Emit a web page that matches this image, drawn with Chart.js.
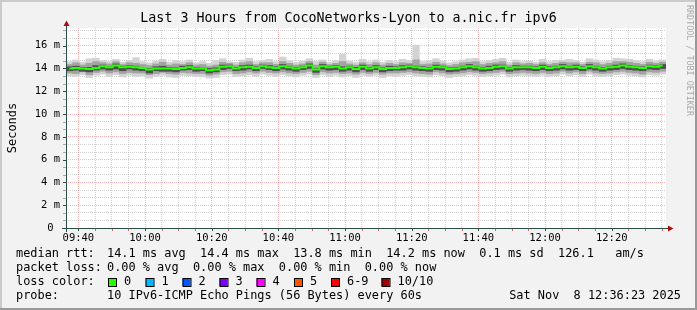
<!DOCTYPE html>
<html>
<head>
<meta charset="utf-8">
<script src="https://cdn.jsdelivr.net/npm/chart.js@4.4.0/dist/chart.umd.min.js"></script>
<style>
  html, body { margin: 0; padding: 0; background: #f2f2f2; }
  #wrap { width: 697px; height: 310px; }
</style>
</head>
<body>
<div id="wrap"><canvas id="smoke" width="697" height="310"></canvas></div>
<script>
// time window of the graph and sample step (one smoke column every 2 minutes)
const startTime = '09:36:17';
const endTime = '12:36:17';
const stepSec = 120;

// axis labels
const xLabels = ['09:40', '10:00', '10:20', '10:40', '11:00', '11:20', '11:40', '12:00', '12:20'];
const yLabels = [0, 2, 4, 6, 8, 10, 12, 14, 16];
const yMax = 17.55;

// median rtt (ms)
const median = [
  14.0, 14.05, 14.0, 13.95, 14.05, 14.2, 14.1, 14.25, 14.1, 14.15, 14.1, 14.05, 13.9, 14.0, 14.0,
  14.0, 13.95, 14.05, 14.1, 14.0, 14.0, 13.85, 13.9, 14.15, 14.2, 14.0, 14.1, 14.15, 14.05, 14.2,
  14.1, 14.05, 14.2, 14.1, 14.0, 14.1, 14.25, 13.9, 14.2, 14.1, 14.15, 14.0, 14.1, 13.95, 14.15,
  14.0, 14.1, 13.95, 14.05, 14.05, 14.1, 14.2, 14.1, 14.05, 14.0, 14.15, 14.1, 13.95, 14.0, 14.1,
  14.2, 14.1, 14.0, 14.05, 14.15, 14.2, 14.0, 14.1, 14.1, 14.1, 14.05, 14.15, 14.05, 14.1, 14.2,
  14.1, 14.15, 14.05, 14.2, 14.1, 14.0, 14.1, 14.15, 14.25, 14.15, 14.1, 14.05, 14.2, 14.15, 14.25
];

// smoke: slowest / fastest ping of each column (ms)
const outerHi = [
  14.6, 14.75, 14.55, 14.85, 14.9, 14.7, 14.6, 14.8, 14.55, 14.7, 14.95, 14.6, 14.5, 14.65, 14.8,
  14.55, 14.7, 14.6, 14.75, 14.5, 14.6, 14.45, 14.7, 14.85, 14.6, 14.55, 14.75, 14.9, 14.6, 14.7,
  14.8, 14.6, 15.0, 14.7, 14.55, 14.65, 14.85, 14.6, 14.75, 14.55, 14.7, 15.25, 14.65, 14.55, 14.8,
  14.6, 14.75, 14.55, 14.7, 14.6, 14.8, 14.7, 16.05, 14.6, 14.7, 14.85, 14.65, 14.5, 14.6, 14.75,
  14.85, 14.9, 14.6, 14.7, 14.8, 14.9, 14.55, 14.75, 14.6, 14.65, 14.55, 14.8, 14.6, 14.7, 14.75,
  14.8, 14.7, 14.55, 14.85, 14.75, 14.6, 14.7, 14.9, 14.85, 14.8, 14.7, 14.6, 14.8, 14.65, 14.75
];
const outerLo = [
  13.35, 13.3, 13.45, 13.2, 13.4, 13.5, 13.3, 13.45, 13.25, 13.4, 13.3, 13.35, 13.15, 13.3, 13.4,
  13.25, 13.2, 13.4, 13.35, 13.3, 13.25, 13.15, 13.2, 13.45, 13.5, 13.3, 13.35, 13.45, 13.3, 13.5,
  13.4, 13.3, 13.45, 13.35, 13.25, 13.4, 13.5, 13.2, 13.45, 13.3, 13.4, 13.25, 13.35, 13.2, 13.4,
  13.3, 13.4, 13.2, 13.35, 13.3, 13.4, 13.45, 13.35, 13.3, 13.25, 13.45, 13.35, 13.2, 13.3, 13.35,
  13.45, 13.4, 13.3, 13.35, 13.4, 13.5, 13.25, 13.35, 13.4, 13.35, 13.3, 13.4, 13.3, 13.35, 13.5,
  13.35, 13.45, 13.3, 13.5, 13.35, 13.3, 13.35, 13.45, 13.5, 13.4, 13.35, 13.25, 13.45, 13.4, 13.5
];

// smoke: middle band (ms)
const midHi = [
  14.35, 14.5, 14.3, 14.45, 14.6, 14.5, 14.4, 14.6, 14.35, 14.5, 14.45, 14.35, 14.25, 14.4, 14.55,
  14.3, 14.4, 14.35, 14.5, 14.3, 14.35, 14.2, 14.3, 14.55, 14.45, 14.3, 14.5, 14.6, 14.35, 14.5,
  14.5, 14.35, 14.6, 14.45, 14.3, 14.4, 14.6, 14.3, 14.55, 14.35, 14.45, 14.6, 14.4, 14.3, 14.5,
  14.35, 14.5, 14.3, 14.45, 14.35, 14.5, 14.45, 14.75, 14.35, 14.4, 14.55, 14.4, 14.25, 14.35, 14.5,
  14.55, 14.6, 14.35, 14.45, 14.5, 14.6, 14.3, 14.5, 14.4, 14.45, 14.35, 14.5, 14.35, 14.45, 14.55,
  14.5, 14.5, 14.35, 14.55, 14.5, 14.35, 14.45, 14.6, 14.6, 14.55, 14.45, 14.35, 14.55, 14.45, 14.55
];
const midLo = [
  13.6, 13.55, 13.7, 13.45, 13.65, 13.75, 13.6, 13.7, 13.55, 13.65, 13.6, 13.6, 13.45, 13.55, 13.65,
  13.55, 13.5, 13.65, 13.6, 13.55, 13.55, 13.4, 13.5, 13.7, 13.75, 13.55, 13.6, 13.7, 13.6, 13.75,
  13.65, 13.6, 13.7, 13.6, 13.55, 13.65, 13.75, 13.45, 13.7, 13.6, 13.65, 13.55, 13.6, 13.5, 13.65,
  13.55, 13.65, 13.5, 13.6, 13.6, 13.65, 13.7, 13.6, 13.55, 13.5, 13.7, 13.6, 13.5, 13.55, 13.6,
  13.7, 13.65, 13.55, 13.6, 13.65, 13.75, 13.55, 13.6, 13.65, 13.6, 13.55, 13.65, 13.55, 13.6, 13.75,
  13.6, 13.7, 13.55, 13.75, 13.6, 13.55, 13.6, 13.7, 13.75, 13.65, 13.6, 13.5, 13.7, 13.65, 13.75
];

// smoke: dark core around the median (ms)
const innerHi = [
  14.15, 14.2, 14.1, 14.1, 14.25, 14.3, 14.15, 14.4, 14.2, 14.25, 14.2, 14.1, 14.0, 14.15, 14.2,
  14.1, 14.05, 14.2, 14.25, 14.1, 14.05, 14.0, 14.05, 14.3, 14.3, 14.1, 14.25, 14.3, 14.15, 14.3,
  14.25, 14.15, 14.35, 14.2, 14.1, 14.2, 14.4, 14.0, 14.35, 14.2, 14.25, 14.15, 14.2, 14.1, 14.3,
  14.1, 14.25, 14.05, 14.2, 14.15, 14.25, 14.3, 14.2, 14.15, 14.1, 14.3, 14.2, 14.05, 14.1, 14.2,
  14.35, 14.2, 14.1, 14.2, 14.3, 14.3, 14.1, 14.25, 14.2, 14.2, 14.15, 14.3, 14.15, 14.2, 14.35,
  14.2, 14.3, 14.15, 14.35, 14.2, 14.1, 14.2, 14.3, 14.4, 14.25, 14.2, 14.15, 14.3, 14.25, 14.35
];
const innerLo = [
  13.8, 13.85, 13.75, 13.7, 13.85, 13.95, 13.85, 13.95, 13.8, 13.95, 13.85, 13.8, 13.6, 13.8, 13.75,
  13.75, 13.7, 13.85, 13.9, 13.75, 13.8, 13.6, 13.7, 13.9, 14.0, 13.8, 13.85, 13.95, 13.8, 14.0,
  13.9, 13.8, 13.95, 13.85, 13.75, 13.9, 14.0, 13.65, 13.95, 13.85, 13.9, 13.75, 13.85, 13.7, 13.9,
  13.75, 13.9, 13.7, 13.8, 13.85, 13.85, 13.95, 13.85, 13.8, 13.75, 13.9, 13.85, 13.7, 13.75, 13.85,
  13.95, 13.85, 13.75, 13.8, 13.9, 13.95, 13.75, 13.85, 13.9, 13.85, 13.8, 13.9, 13.8, 13.85, 13.95,
  13.85, 13.9, 13.8, 13.95, 13.85, 13.75, 13.85, 13.9, 14.0, 13.9, 13.85, 13.8, 13.95, 13.9, 14.0
];

// legend
const lossLabels = ['0', '1', '2', '3', '4', '5', '6-9', '10/10'];
const lossColors = ['#26ff00', '#00b8ff', '#0059ff', '#7e00ff', '#ff00ff', '#ff5500', '#ff0000', '#a10000'];
const lossBoxX = [108, 145.5, 182.5, 219.5, 256.5, 294, 331, 381.5];

function toSec(hms) {
  const p = hms.split(':').map(Number);
  return p[0] * 3600 + p[1] * 60 + (p[2] || 0);
}
function fmtTime(sec) {
  const h = Math.floor(sec / 3600), m = Math.floor((sec % 3600) / 60);
  return String(h).padStart(2, '0') + ':' + String(m).padStart(2, '0');
}

const xMin = toSec(startTime);
const xMax = toSec(endTime);
const majorX = xLabels.map(toSec);

function colTime(i) { return xMin + stepSec / 2 + i * stepSec; }
function toPoints(arr) { return arr.map((v, i) => ({ x: colTime(i), y: v })); }
function toBars(lo, hi) { return lo.map((v, i) => ({ x: colTime(i), y: [v, hi[i]] })); }

const MONO = '"DejaVu Sans Mono", "Liberation Mono", monospace';
const MAJOR_GRID = 'rgba(240, 90, 90, 0.45)';
const MINOR_GRID = 'rgba(165, 165, 165, 0.5)';

function barSet(label, lo, hi, color, order) {
  return {
    label: label,
    data: toBars(lo, hi),
    backgroundColor: color,
    borderWidth: 0,
    grouped: false,
    barPercentage: 1,
    categoryPercentage: 1,
    order: order
  };
}

// frame, title, axis arrows and the text legend under the plot
const rrdFrame = {
  id: 'rrdFrame',
  beforeDraw(chart) {
    const ctx = chart.ctx, a = chart.chartArea;
    ctx.save();
    ctx.fillStyle = '#f2f2f2';
    ctx.fillRect(0, 0, chart.width, chart.height);
    // shaded border
    ctx.fillStyle = '#cbcbcb';
    ctx.fillRect(0, 0, chart.width, 2);
    ctx.fillRect(0, 0, 2, chart.height);
    ctx.fillStyle = '#999999';
    ctx.fillRect(0, chart.height - 2, chart.width, 2);
    ctx.fillRect(chart.width - 2, 0, 2, chart.height);
    ctx.fillStyle = '#ffffff';
    ctx.fillRect(a.left, a.top, a.right - a.left, a.bottom - a.top);
    ctx.restore();
  },
  afterDraw(chart) {
    const ctx = chart.ctx, a = chart.chartArea;
    const xs = chart.scales.x, ys = chart.scales.y;
    ctx.save();

    // tick marks on the axes
    ctx.lineWidth = 1;
    for (let t = Math.ceil(xMin / 300) * 300; t <= xMax; t += 300) {
      const px = Math.round(xs.getPixelForValue(t)) + 0.5;
      ctx.strokeStyle = t % 1200 === 0 ? '#2c4d43' : 'rgba(220, 60, 60, 0.8)';
      ctx.beginPath();
      ctx.moveTo(px, a.bottom + 1);
      ctx.lineTo(px, a.bottom + 3);
      ctx.stroke();
    }
    for (let k = 0; k * 2 / 3 <= yMax; k++) {
      const py = Math.round(ys.getPixelForValue(k * 2 / 3)) + 0.5;
      ctx.strokeStyle = k % 3 === 0 ? '#2c4d43' : 'rgba(150, 150, 150, 0.8)';
      ctx.beginPath();
      ctx.moveTo(a.left - 3, py);
      ctx.lineTo(a.left, py);
      ctx.stroke();
    }

    // axis lines
    ctx.strokeStyle = '#2c4d43';
    ctx.beginPath();
    ctx.moveTo(a.left - 4, a.bottom + 0.5);
    ctx.lineTo(a.right + 4, a.bottom + 0.5);
    ctx.moveTo(a.left + 0.5, a.bottom + 4);
    ctx.lineTo(a.left + 0.5, a.top - 4);
    ctx.stroke();

    // arrows
    ctx.fillStyle = '#a81010';
    ctx.beginPath();
    ctx.moveTo(a.right + 2, a.bottom - 2.5);
    ctx.lineTo(a.right + 2, a.bottom + 3.5);
    ctx.lineTo(a.right + 7.5, a.bottom + 0.5);
    ctx.closePath();
    ctx.fill();
    ctx.beginPath();
    ctx.moveTo(a.left - 2.5, a.top - 2);
    ctx.lineTo(a.left + 3.5, a.top - 2);
    ctx.lineTo(a.left + 0.5, a.top - 7.5);
    ctx.closePath();
    ctx.fill();

    // title
    ctx.fillStyle = '#000';
    ctx.font = '13.3px ' + MONO;
    ctx.textAlign = 'center';
    ctx.textBaseline = 'alphabetic';
    ctx.fillText('Last 3 Hours from CocoNetworks-Lyon to a.nic.fr ipv6', 348.5, 22);

    // vertical label
    ctx.save();
    ctx.translate(13, (a.top + a.bottom) / 2);
    ctx.rotate(-Math.PI / 2);
    ctx.font = '12px ' + MONO;
    ctx.textBaseline = 'middle';
    ctx.fillText('Seconds', 0, 0);
    ctx.restore();

    // watermark
    ctx.save();
    ctx.translate(689, 5);
    ctx.rotate(Math.PI / 2);
    ctx.font = '8.4px ' + MONO;
    ctx.fillStyle = '#a9a9a9';
    ctx.textAlign = 'left';
    ctx.textBaseline = 'middle';
    ctx.fillText('RRDTOOL / TOBI OETIKER', 0, 0);
    ctx.restore();

    // legend lines
    ctx.font = '11.9px ' + MONO;
    ctx.fillStyle = '#000';
    ctx.textAlign = 'left';
    ctx.textBaseline = 'middle';
    ctx.fillText('median rtt:', 16, 254);
    ctx.fillText('14.1 ms avg  14.4 ms max  13.8 ms min  14.2 ms now  0.1 ms sd  126.1   am/s', 107, 254);
    ctx.fillText('packet loss:', 16, 268);
    ctx.fillText('0.00 % avg  0.00 % max  0.00 % min  0.00 % now', 107, 268);
    ctx.fillText('loss color:', 16, 282);
    lossLabels.forEach((lab, i) => {
      const bx = lossBoxX[i];
      ctx.fillStyle = lossColors[i];
      ctx.fillRect(bx, 278, 8, 8);
      ctx.strokeStyle = '#000';
      ctx.strokeRect(bx + 0.5, 278.5, 8, 8);
      ctx.fillStyle = '#000';
      ctx.fillText(lab, bx + 16, 282);
    });
    ctx.fillText('probe:', 16, 296);
    ctx.fillText('10 IPv6-ICMP Echo Pings (56 Bytes) every 60s', 107, 296);
    ctx.textAlign = 'right';
    ctx.fillText('Sat Nov  8 12:36:23 2025', 681, 296);

    ctx.restore();
  }
};

new Chart(document.getElementById('smoke'), {
  type: 'bar',
  data: {
    datasets: [
      {
        type: 'line',
        label: 'median rtt',
        data: toPoints(median),
        borderColor: '#26ff00',
        borderWidth: 2,
        pointRadius: 0,
        stepped: 'middle',
        fill: false,
        order: 1
      },
      barSet('core', innerLo, innerHi, '#4e4e4e', 2),
      barSet('middle', midLo, midHi, '#a3a3a3', 3),
      barSet('outer', outerLo, outerHi, '#d3d3d3', 4)
    ]
  },
  options: {
    responsive: false,
    animation: false,
    devicePixelRatio: 1,
    layout: { padding: { left: 0, top: 28, right: 31, bottom: 62 } },
    plugins: { legend: { display: false }, tooltip: { enabled: false } },
    scales: {
      x: {
        type: 'linear',
        min: xMin,
        max: xMax,
        offset: false,
        grid: {
          offset: false,
          drawTicks: false,
          lineWidth: 1,
          color: ctx => (ctx.tick && ctx.tick.value % 1200 === 0 ? MAJOR_GRID : MINOR_GRID)
        },
        border: { display: false, dash: [1, 1] },
        afterBuildTicks: axis => {
          const ticks = [];
          for (let t = Math.ceil(xMin / 300) * 300; t <= xMax; t += 300) ticks.push({ value: t });
          axis.ticks = ticks;
        },
        afterFit: axis => { axis.height = 20; },
        ticks: {
          autoSkip: false,
          maxRotation: 0,
          padding: 4,
          color: '#000',
          font: { family: MONO, size: 10.5 },
          callback: v => (majorX.includes(v) ? fmtTime(v) : '')
        }
      },
      y: {
        min: 0,
        max: yMax,
        grid: {
          drawTicks: false,
          lineWidth: 1,
          color: ctx => (ctx.index % 3 === 0 ? MAJOR_GRID : MINOR_GRID)
        },
        border: { display: false, dash: [1, 1] },
        afterBuildTicks: axis => {
          const ticks = [];
          for (let k = 0; k * 2 / 3 <= yMax; k++) ticks.push({ value: k * 2 / 3 });
          axis.ticks = ticks;
        },
        afterFit: axis => { axis.width = 66; },
        ticks: {
          autoSkip: false,
          padding: 6,
          color: '#000',
          font: { family: MONO, size: 10.5 },
          callback: (v, i) => {
            if (i % 3 !== 0) return '';
            const n = Math.round(v);
            return yLabels.includes(n) ? (n === 0 ? '0 ' : n + ' m') : '';
          }
        }
      }
    }
  },
  plugins: [rrdFrame]
});
</script>
</body>
</html>
